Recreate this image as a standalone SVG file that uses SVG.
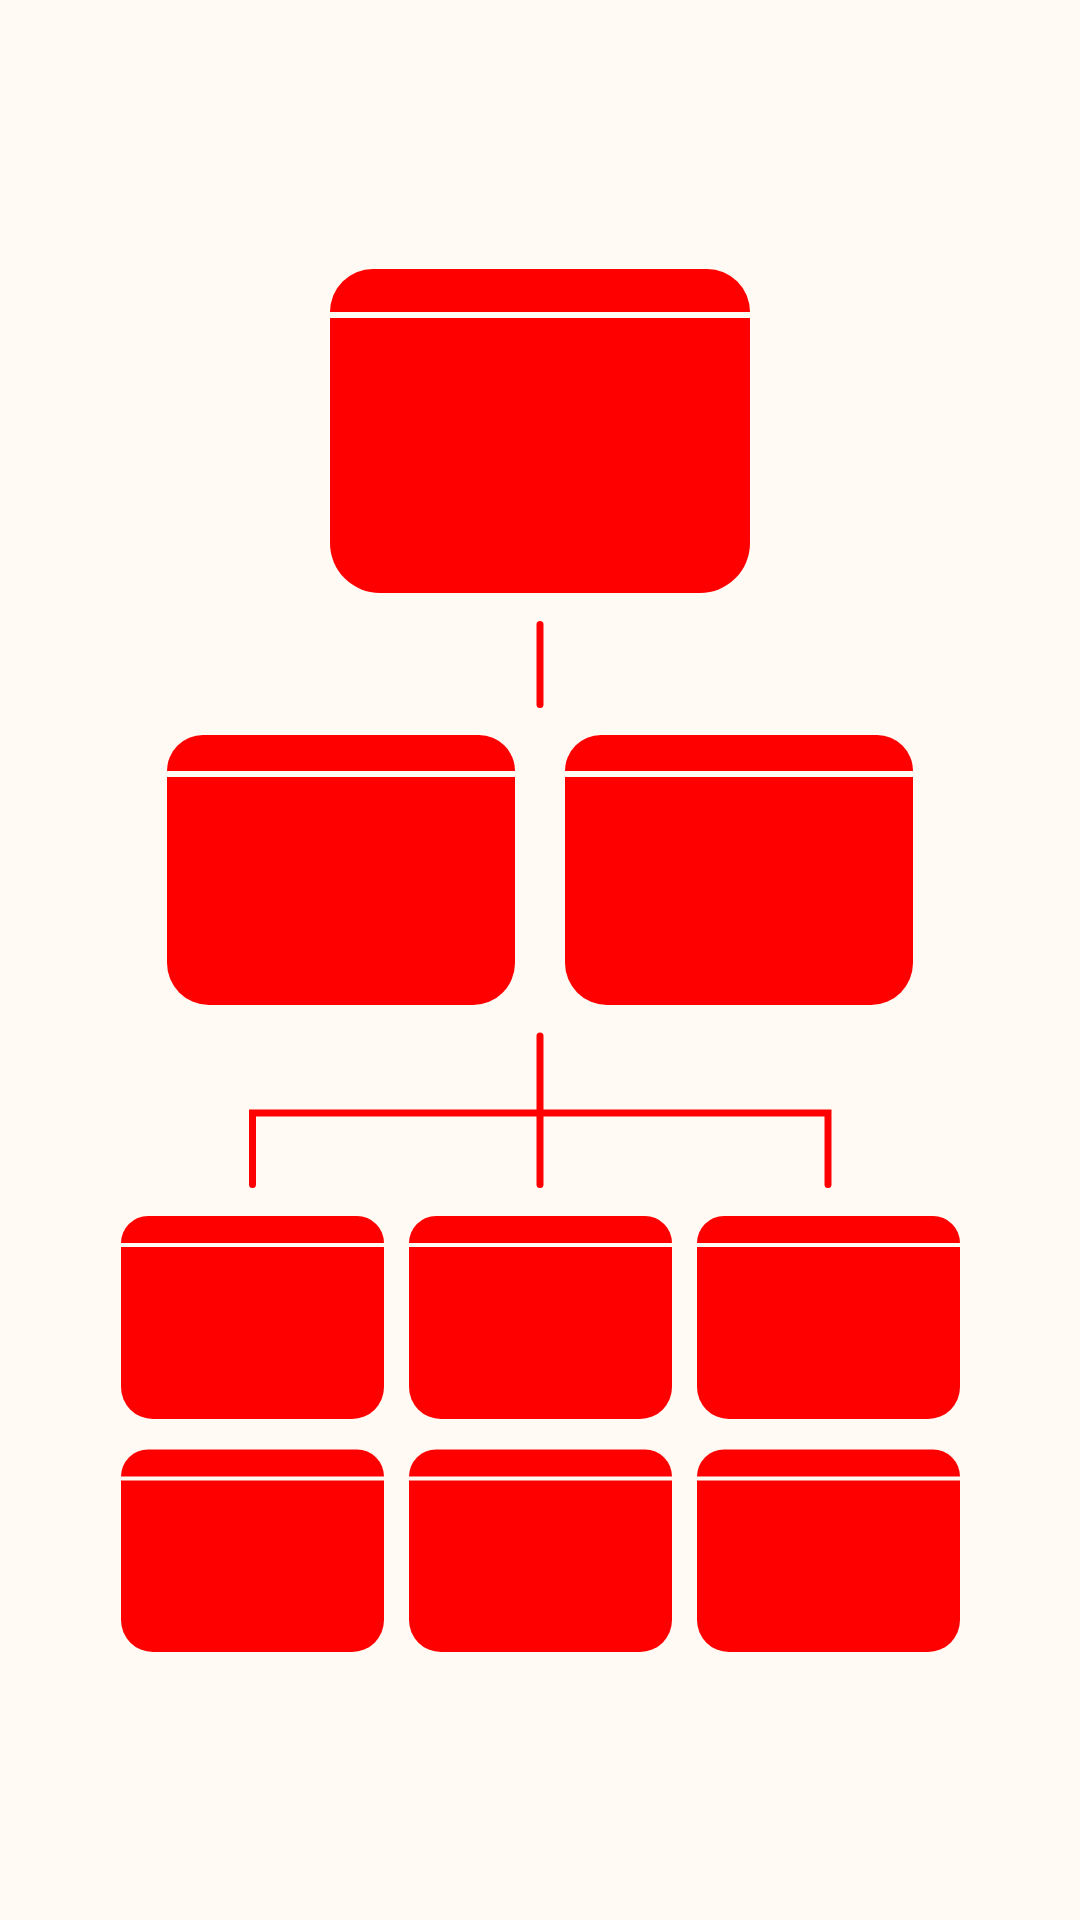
<svg xmlns="http://www.w3.org/2000/svg" width="1080" height="1920" viewBox="0 0 1080 1920">
  <style>
    .n { fill: #ff0000; }
    .c { fill: none; stroke: #ff0000; stroke-width: 7; stroke-linecap: round; stroke-linejoin: miter; }
  </style>
  <rect width="1080" height="1920" fill="#fffaf4"/>
  <g id="connectors">
    <path class="c" d="M540,624.5 V704.5"/>
    <path class="c" d="M540,1036 V1184.5"/>
    <path class="c" d="M252.5,1184.5 V1113 H828 V1184.5"/>
  </g>
  <g id="node-root">
    <path class="n" d="M330,312 A43,43 0 0 1 373,269 H707 A43,43 0 0 1 750,312 Z"/>
    <path class="n" d="M330,318 H750 V543 A50,50 0 0 1 700,593 H380 A50,50 0 0 1 330,543 Z"/>
  </g>
  <g id="node-mid-left">
    <path class="n" d="M167,771 A36,36 0 0 1 203,735 H479 A36,36 0 0 1 515,771 Z"/>
    <path class="n" d="M167,777 H515 V963 A42,42 0 0 1 473,1005 H209 A42,42 0 0 1 167,963 Z"/>
  </g>
  <g id="node-mid-right">
    <path class="n" d="M565,771 A36,36 0 0 1 601,735 H877 A36,36 0 0 1 913,771 Z"/>
    <path class="n" d="M565,777 H913 V963 A42,42 0 0 1 871,1005 H607 A42,42 0 0 1 565,963 Z"/>
  </g>
  <g id="node-r1c1">
    <path class="n" d="M121,1243 A27,27 0 0 1 148,1216 H357 A27,27 0 0 1 384,1243 Z"/>
    <path class="n" d="M121,1247 H384 V1387 A32,32 0 0 1 352,1419 H153 A32,32 0 0 1 121,1387 Z"/>
  </g>
  <g id="node-r1c2">
    <path class="n" d="M409,1243 A27,27 0 0 1 436,1216 H645 A27,27 0 0 1 672,1243 Z"/>
    <path class="n" d="M409,1247 H672 V1387 A32,32 0 0 1 640,1419 H441 A32,32 0 0 1 409,1387 Z"/>
  </g>
  <g id="node-r1c3">
    <path class="n" d="M697,1243 A27,27 0 0 1 724,1216 H933 A27,27 0 0 1 960,1243 Z"/>
    <path class="n" d="M697,1247 H960 V1387 A32,32 0 0 1 928,1419 H729 A32,32 0 0 1 697,1387 Z"/>
  </g>
  <g id="node-r2c1">
    <path class="n" d="M121,1476.5 A27,27 0 0 1 148,1449.5 H357 A27,27 0 0 1 384,1476.5 Z"/>
    <path class="n" d="M121,1480.5 H384 V1620 A32,32 0 0 1 352,1652 H153 A32,32 0 0 1 121,1620 Z"/>
  </g>
  <g id="node-r2c2">
    <path class="n" d="M409,1476.5 A27,27 0 0 1 436,1449.5 H645 A27,27 0 0 1 672,1476.5 Z"/>
    <path class="n" d="M409,1480.5 H672 V1620 A32,32 0 0 1 640,1652 H441 A32,32 0 0 1 409,1620 Z"/>
  </g>
  <g id="node-r2c3">
    <path class="n" d="M697,1476.5 A27,27 0 0 1 724,1449.5 H933 A27,27 0 0 1 960,1476.5 Z"/>
    <path class="n" d="M697,1480.5 H960 V1620 A32,32 0 0 1 928,1652 H729 A32,32 0 0 1 697,1620 Z"/>
  </g>
</svg>
